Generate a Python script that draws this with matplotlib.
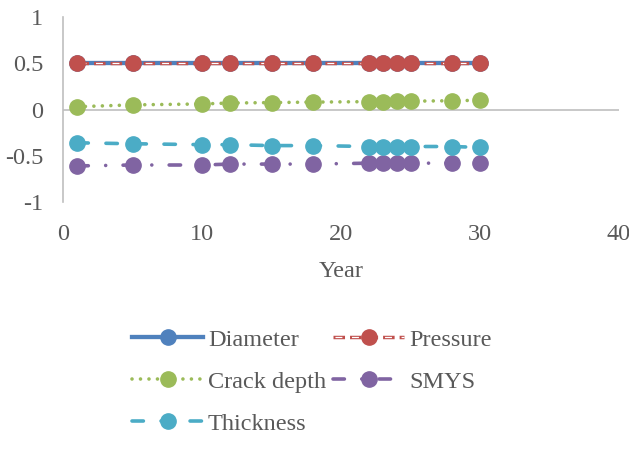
import matplotlib
matplotlib.use("Agg")
import matplotlib.pyplot as plt

# data
years = [1, 5, 10, 12, 15, 18, 22, 23, 24, 25, 28, 30]
diameter = [0.5] * 12
pressure = [0.5] * 12
crack_depth = [0.03, 0.05, 0.06, 0.07, 0.075, 0.08, 0.085, 0.085, 0.09, 0.09, 0.095, 0.1]
smys = [-0.61, -0.60, -0.60, -0.59, -0.59, -0.59, -0.58, -0.58, -0.58, -0.58, -0.58, -0.58]
thickness = [-0.36, -0.37, -0.38, -0.38, -0.39, -0.39, -0.40, -0.40, -0.40, -0.40, -0.40, -0.41]

plt.rcParams['font.family'] = ['Liberation Serif', 'DejaVu Serif']
plt.rcParams['lines.scale_dashes'] = False
TXT = '#595959'
GRID = '#BFBFBF'
FS = 17.5
MS = 11
LW = 2.6

fig = plt.figure(figsize=(6.29, 4.5), dpi=100)
ax = fig.add_axes([0.1002, 0.5511, 0.884, 0.4111])

# diameter: solid blue
h_dia, = ax.plot(years, diameter, color='#4F81BD', lw=3.1, marker='o', ms=MS,
                 mec='#4F81BD', mfc='#4F81BD', zorder=3)

# pressure: red dashes with a white core
p_out, = ax.plot(years, pressure, color='#C0504D', lw=2.5, dashes=(8.3, 3.6),
                 dash_capstyle='butt', zorder=4)
p_in, = ax.plot(years, pressure, color='white', lw=0.9, ls=(10.5, (5.0, 6.9)),
                dash_capstyle='butt', zorder=4)
p_mk, = ax.plot(years, pressure, ls='none', marker='o', ms=MS, mfc='#C0504D',
                mec='#C0504D', zorder=5)

# crack depth: green round dots
h_crack, = ax.plot(years, crack_depth, color='#9BBB59', lw=LW, dashes=(0.01, 6.1),
                   dash_capstyle='round', marker='o', ms=MS, mfc='#9BBB59',
                   mec='#9BBB59', zorder=3)

# SMYS: purple long dash dot
h_smys, = ax.plot(years, smys, color='#8064A2', lw=LW, dashes=(8.2, 12.5, 0.01, 12.5),
                  dash_capstyle='round', marker='o', ms=MS, mfc='#8064A2',
                  mec='#8064A2', zorder=3)

# thickness: cyan dashes
h_thk, = ax.plot(years, thickness, color='#4BACC6', lw=LW, dashes=(8.2, 12.7),
                 dash_capstyle='round', marker='o', ms=MS, mfc='#4BACC6',
                 mec='#4BACC6', zorder=3)

ax.set_xlim(0, 40)
ax.set_ylim(-1, 1)
ax.set_xticks([0, 10, 20, 30, 40])
ax.set_yticks([-1, -0.5, 0, 0.5, 1])
ax.set_yticklabels(['-1', '-0.5', '0', '0.5', '1'])
ax.axhline(0, color=GRID, lw=1.2, zorder=1)
for s in ['top', 'right', 'bottom']:
    ax.spines[s].set_visible(False)
ax.spines['left'].set_color(GRID)
ax.spines['left'].set_linewidth(1.2)
ax.tick_params(axis='both', length=0, labelsize=FS, labelcolor=TXT)
ax.tick_params(axis='x', pad=16)
ax.tick_params(axis='y', pad=14.4)
ax.set_xlabel('Year', fontsize=FS, color=TXT, labelpad=11)

# column-major order so rows read Diameter/Pressure, Crack depth/SMYS, Thickness
fig.legend([h_dia, h_crack, h_thk, (p_out, p_in, p_mk), h_smys],
           ['Diameter', 'Crack depth', 'Thickness', 'Pressure', 'SMYS'],
           loc='upper left', bbox_to_anchor=(0.21, 0.27), ncol=2, frameon=False,
           fontsize=FS, labelcolor=TXT, handlelength=2.92, handletextpad=0.2,
           columnspacing=0.29, labelspacing=0.83, borderpad=0, borderaxespad=0)

fig.savefig('out.png', dpi=100)
